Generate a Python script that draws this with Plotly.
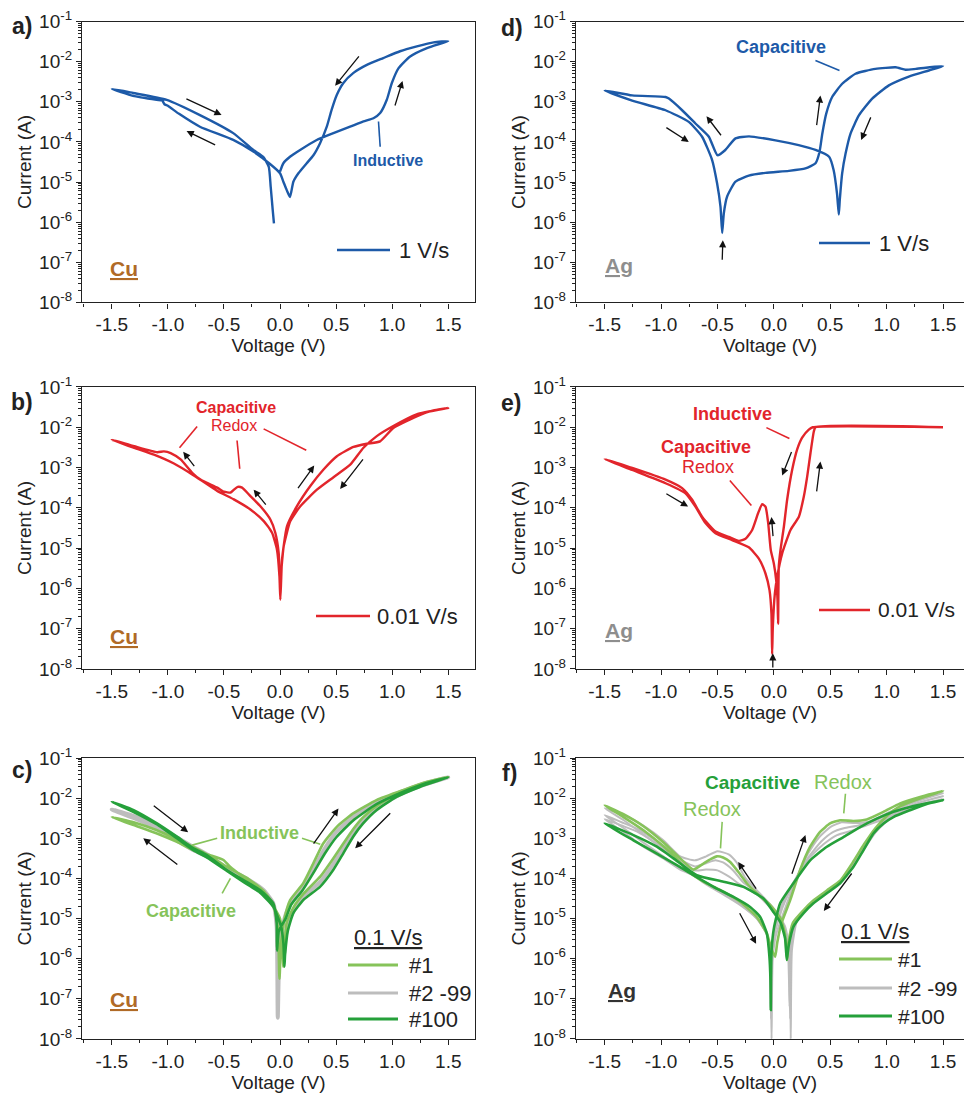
import plotly.graph_objects as go

FONT = "Liberation Sans, Arial, Helvetica, sans-serif"
BLUE = "#1d5aa8"
RED = "#e2252b"
LGREEN = "#86c35a"
DGREEN = "#25a03a"
GRAY = "#bdbdbd"
CU = "#b06a26"
AG = "#8e8e8e"

x_tickvals = [-1.5, -1.0, -0.5, 0.0, 0.5, 1.0, 1.5]
x_ticktext = ["-1.5", "-1.0", "-0.5", "0.0", "0.5", "1.0", "1.5"]
x_minor = [-1.75, -1.25, -0.75, -0.25, 0.25, 0.75, 1.25]
y_exponents = [-8, -7, -6, -5, -4, -3, -2, -1]

# ---- data: (voltage V, log10 current A) ----
a_cycle = [(0.0, -4.74), (0.03, -4.53), (0.089, -4.37), (0.179, -4.2), (0.327, -3.95), (0.476, -3.78),
           (0.625, -3.62), (0.744, -3.49), (0.833, -3.41), (0.893, -3.28), (0.952, -2.95), (0.997, -2.53),
           (1.057, -2.16), (1.16, -1.87), (1.31, -1.66), (1.5, -1.49),
           (1.37, -1.52), (1.22, -1.62), (1.07, -1.74), (0.92, -1.91), (0.774, -2.08), (0.655, -2.28),
           (0.565, -2.53), (0.506, -2.83), (0.46, -3.2), (0.417, -3.62), (0.357, -4.03), (0.298, -4.33),
           (0.238, -4.53), (0.164, -4.78), (0.119, -4.99), (0.089, -5.37), (0.06, -5.2), (0.03, -4.99),
           (0.0, -4.78), (-0.089, -4.55), (-0.238, -4.24), (-0.417, -3.95), (-0.714, -3.62), (-0.9, -3.3),
           (-1.0, -3.1), (-1.03, -3.06), (-1.05, -2.97), (-1.1, -2.95), (-1.31, -2.85), (-1.5, -2.68),
           (-1.31, -2.78), (-1.01, -2.95), (-0.714, -3.33), (-0.417, -3.78), (-0.238, -4.2), (-0.15, -4.37),
           (-0.1, -4.62), (-0.083, -5.12), (-0.065, -5.7), (-0.054, -6.03)]

d_cycle = [(-1.5, -2.72), (-1.256, -2.97), (-0.96, -3.21), (-0.754, -3.5), (-0.636, -3.87), (-0.547, -4.45),
           (-0.503, -5.03), (-0.473, -5.61), (-0.458, -6.27), (-0.443, -5.77), (-0.414, -5.36), (-0.34, -4.99),
           (-0.222, -4.84), (-0.074, -4.77), (0.133, -4.72), (0.28, -4.66), (0.37, -4.53), (0.405, -4.25),
           (0.43, -3.79), (0.464, -3.3), (0.517, -2.88), (0.606, -2.55), (0.724, -2.3), (0.9, -2.18),
           (1.08, -2.14), (1.168, -2.2), (1.26, -2.18), (1.5, -2.11),
           (1.375, -2.22), (1.197, -2.37), (1.02, -2.59), (0.872, -2.92), (0.754, -3.34), (0.68, -3.79),
           (0.636, -4.29), (0.606, -4.78), (0.585, -5.44), (0.576, -5.81), (0.56, -5.28), (0.53, -4.7),
           (0.49, -4.37), (0.37, -4.2), (0.22, -4.08), (0.015, -3.96), (-0.22, -3.86), (-0.34, -3.91),
           (-0.43, -4.2), (-0.5, -4.33), (-0.576, -3.87), (-0.695, -3.54), (-0.813, -3.21), (-0.93, -2.92),
           (-0.96, -2.88), (-1.256, -2.84), (-1.5, -2.72)]

b_cycle = [(0.003, -6.28), (0.01, -5.8), (0.018, -5.28), (0.062, -4.46), (0.151, -3.96), (0.27, -3.46),
           (0.388, -3.05), (0.507, -2.72), (0.655, -2.49), (0.774, -2.41), (0.892, -2.35), (1.01, -2.02),
           (1.218, -1.73), (1.367, -1.58), (1.5, -1.52),
           (1.218, -1.68), (1.01, -1.97), (0.863, -2.22), (0.744, -2.51), (0.626, -2.93), (0.477, -3.24),
           (0.329, -3.55), (0.181, -3.96), (0.092, -4.33), (0.033, -4.95), (0.01, -5.6), (0.0, -5.9),
           (-0.012, -5.12), (-0.042, -4.62), (-0.086, -4.29), (-0.175, -3.96), (-0.264, -3.71), (-0.338, -3.5),
           (-0.377, -3.48), (-0.41, -3.55), (-0.44, -3.62), (-0.5, -3.6), (-0.56, -3.5), (-0.709, -3.3),
           (-0.783, -3.13), (-0.886, -2.8), (-0.975, -2.64), (-1.035, -2.6), (-1.094, -2.62), (-1.3, -2.47),
           (-1.5, -2.31),
           (-1.3, -2.51), (-1.124, -2.68), (-0.946, -2.9), (-0.783, -3.17), (-0.56, -3.58), (-0.412, -3.79),
           (-0.264, -4.04), (-0.145, -4.33), (-0.071, -4.62), (-0.027, -5.04), (-0.005, -5.7), (0.003, -6.28)]

e_cycle = [(-0.015, -7.63), (-0.009, -6.96), (0.009, -6.13), (0.03, -5.71), (0.074, -5.13), (0.148, -4.55),
           (0.222, -4.22), (0.266, -3.72), (0.296, -3.22), (0.325, -2.64), (0.355, -2.1), (0.37, -2.0),
           (1.5, -2.0), (0.345, -2.0), (0.31, -2.06), (0.251, -2.26), (0.207, -2.55), (0.163, -3.05),
           (0.118, -3.8), (0.089, -4.47), (0.059, -5.05), (0.044, -5.46), (0.038, -6.88),
           (0.033, -6.3), (0.021, -5.8), (0.0, -5.38), (-0.027, -5.05), (-0.05, -4.38), (-0.074, -3.97),
           (-0.103, -3.91), (-0.139, -4.13), (-0.192, -4.55), (-0.251, -4.77), (-0.31, -4.82), (-0.4, -4.72),
           (-0.517, -4.59), (-0.636, -4.22), (-0.724, -3.8), (-0.813, -3.51), (-0.96, -3.30), (-1.256, -3.01),
           (-1.5, -2.79),
           (-1.256, -3.06), (-0.96, -3.39), (-0.783, -3.64), (-0.695, -3.97), (-0.606, -4.38), (-0.517, -4.63),
           (-0.37, -4.8), (-0.222, -4.98), (-0.133, -5.26), (-0.074, -5.63), (-0.038, -6.05), (-0.021, -6.63),
           (-0.015, -7.63)]

c_cycle1 = [(-0.005, -6.5), (0.01, -5.6), (0.04, -5.0), (0.09, -4.54), (0.207, -4.12), (0.296, -3.63),
            (0.385, -3.13), (0.504, -2.72), (0.652, -2.38), (0.86, -2.05), (1.097, -1.8), (1.305, -1.6),
            (1.5, -1.47), (1.25, -1.68), (1.04, -1.92), (0.86, -2.2), (0.74, -2.48), (0.65, -2.78),
            (0.56, -3.15), (0.47, -3.52), (0.36, -3.95), (0.21, -4.38), (0.12, -4.72), (0.06, -5.1),
            (0.04, -5.7), (0.03, -6.2), (0.02, -5.5), (0.0, -5.0), (-0.06, -4.7), (-0.148, -4.37),
            (-0.297, -4.04), (-0.445, -3.71), (-0.504, -3.54), (-0.623, -3.42), (-0.771, -3.29),
            (-0.919, -3.09), (-1.097, -2.88), (-1.305, -2.67), (-1.5, -2.47),
            (-1.305, -2.6), (-1.097, -2.8), (-0.919, -3.02), (-0.771, -3.22), (-0.62, -3.45), (-0.47, -3.72),
            (-0.3, -3.98), (-0.15, -4.3), (-0.06, -4.65), (-0.02, -5.2), (-0.005, -6.5)]

c_cycle100 = [(-0.027, -5.8), (-0.01, -5.3), (0.05, -5.0), (0.1, -4.65), (0.2, -4.3), (0.3, -3.85),
              (0.4, -3.38), (0.5, -2.98), (0.65, -2.56), (0.86, -2.15), (1.1, -1.84), (1.3, -1.63),
              (1.5, -1.48), (1.246, -1.72), (1.038, -1.97), (0.86, -2.3), (0.741, -2.63), (0.652, -2.96),
              (0.563, -3.38), (0.474, -3.79), (0.356, -4.21), (0.207, -4.54), (0.118, -4.87), (0.07, -5.3),
              (0.045, -5.9), (0.039, -6.2), (0.03, -5.6), (0.01, -5.2), (-0.06, -4.7), (-0.18, -4.35),
              (-0.33, -4.08), (-0.47, -3.82), (-0.65, -3.48), (-0.77, -3.3), (-0.92, -3.0), (-1.1, -2.65),
              (-1.3, -2.35), (-1.5, -2.09),
              (-1.305, -2.3), (-1.097, -2.63), (-0.919, -2.96), (-0.771, -3.25), (-0.652, -3.42),
              (-0.474, -3.79), (-0.326, -4.04), (-0.178, -4.29), (-0.06, -4.62), (-0.03, -5.1), (-0.027, -5.8)]

c_cycles_2_99 = [(-0.02, -7.47), (0.0, -5.5), (0.05, -4.9), (0.1, -4.6), (0.2, -4.22), (0.3, -3.75),
                 (0.4, -3.25), (0.5, -2.85), (0.65, -2.47), (0.86, -2.1), (1.1, -1.82), (1.3, -1.62),
                 (1.5, -1.48), (1.25, -1.7), (1.04, -1.95), (0.86, -2.25), (0.74, -2.55), (0.65, -2.87),
                 (0.56, -3.27), (0.47, -3.66), (0.36, -4.08), (0.21, -4.46), (0.12, -4.8), (0.06, -5.2),
                 (0.035, -5.9), (0.02, -5.4), (-0.06, -4.68), (-0.15, -4.33), (-0.3, -4.06), (-0.47, -3.77),
                 (-0.65, -3.45), (-0.77, -3.3), (-0.92, -3.05), (-1.1, -2.75), (-1.3, -2.5), (-1.5, -2.28),
                 (-1.3, -2.45), (-1.1, -2.7), (-0.92, -2.98), (-0.77, -3.22), (-0.65, -3.4), (-0.47, -3.74),
                 (-0.3, -4.0), (-0.15, -4.28), (-0.06, -4.62), (-0.03, -5.2), (-0.02, -7.47)]

f_cycle1 = [(0.012, -5.95), (0.03, -5.6), (0.07, -5.1), (0.145, -4.54), (0.233, -3.79), (0.322, -3.21),
            (0.41, -2.84), (0.499, -2.63), (0.588, -2.55), (0.706, -2.57), (0.824, -2.53), (0.972, -2.34),
            (1.12, -2.13), (1.297, -1.97), (1.5, -1.82),
            (1.3, -2.0), (1.12, -2.2), (1.0, -2.45), (0.9, -2.75), (0.8, -3.15), (0.7, -3.6), (0.59, -4.05),
            (0.47, -4.3), (0.35, -4.55), (0.26, -4.8), (0.17, -5.1), (0.13, -5.6), (0.118, -6.03),
            (0.1, -5.4), (0.06, -5.0), (-0.033, -4.66), (-0.151, -4.37), (-0.239, -4.12), (-0.314, -3.84),
            (-0.387, -3.59), (-0.45, -3.48), (-0.505, -3.45), (-0.56, -3.52), (-0.624, -3.63), (-0.713, -3.78),
            (-0.83, -3.5), (-0.98, -3.1), (-1.156, -2.7), (-1.333, -2.4), (-1.5, -2.18),
            (-1.333, -2.47), (-1.156, -2.8), (-0.979, -3.2), (-0.831, -3.6), (-0.742, -3.86), (-0.624, -4.08),
            (-0.447, -4.33), (-0.299, -4.58), (-0.151, -4.96), (-0.062, -5.37), (-0.018, -5.78), (0.012, -5.95)]

f_cycle100 = [(-0.027, -7.28), (-0.025, -6.5), (-0.02, -5.8), (0.0, -5.25), (0.056, -4.62), (0.174, -4.12),
              (0.322, -3.55), (0.47, -3.21), (0.617, -2.97), (0.765, -2.72), (0.913, -2.51), (1.06, -2.34),
              (1.208, -2.22), (1.356, -2.13), (1.5, -2.05),
              (1.35, -2.15), (1.208, -2.3), (1.06, -2.47), (0.972, -2.63), (0.883, -2.88), (0.794, -3.3),
              (0.706, -3.71), (0.588, -4.12), (0.47, -4.37), (0.351, -4.62), (0.262, -4.87), (0.174, -5.2),
              (0.13, -5.7), (0.115, -6.03), (0.1, -5.5), (0.06, -5.1), (0.0, -4.85), (-0.092, -4.5),
              (-0.27, -4.21), (-0.447, -4.08), (-0.683, -3.92), (-0.89, -3.5), (-1.037, -3.21),
              (-1.245, -2.92), (-1.5, -2.63),
              (-1.245, -3.05), (-1.037, -3.38), (-0.86, -3.67), (-0.713, -3.92), (-0.535, -4.21),
              (-0.358, -4.46), (-0.21, -4.71), (-0.121, -4.96), (-0.062, -5.37), (-0.039, -5.95),
              (-0.03, -6.53), (-0.027, -7.28)]

f_cycle_gray_a = [(-0.02, -8.0), (-0.01, -6.0), (0.02, -5.4), (0.1, -4.75), (0.2, -4.0), (0.3, -3.4),
                  (0.4, -2.98), (0.5, -2.72), (0.6, -2.6), (0.72, -2.62), (0.85, -2.58), (1.0, -2.38),
                  (1.15, -2.18), (1.3, -2.02), (1.5, -1.87),
                  (1.3, -2.05), (1.12, -2.25), (1.0, -2.5), (0.9, -2.8), (0.8, -3.2), (0.7, -3.63),
                  (0.59, -4.07), (0.47, -4.32), (0.35, -4.57), (0.26, -4.82), (0.2, -5.1), (0.16, -5.8),
                  (0.15, -8.0), (0.14, -5.8), (0.1, -5.2), (0.0, -4.75), (-0.15, -4.3), (-0.25, -4.0),
                  (-0.33, -3.6), (-0.4, -3.4), (-0.5, -3.32), (-0.6, -3.45), (-0.7, -3.55), (-0.83, -3.45),
                  (-0.98, -3.05), (-1.16, -2.68), (-1.33, -2.42), (-1.5, -2.25),
                  (-1.33, -2.55), (-1.16, -2.9), (-0.98, -3.28), (-0.83, -3.62), (-0.74, -3.86),
                  (-0.62, -4.08), (-0.45, -4.34), (-0.3, -4.6), (-0.15, -4.98), (-0.06, -5.4),
                  (-0.03, -6.0), (-0.02, -8.0)]

f_cycle_gray_b = [(-0.025, -7.5), (-0.015, -6.0), (0.01, -5.35), (0.08, -4.7), (0.18, -4.1), (0.3, -3.5),
                  (0.42, -3.08), (0.52, -2.85), (0.62, -2.75), (0.75, -2.68), (0.9, -2.55), (1.05, -2.38),
                  (1.2, -2.2), (1.35, -2.06), (1.5, -1.95),
                  (1.3, -2.1), (1.12, -2.3), (1.0, -2.55), (0.9, -2.84), (0.8, -3.25), (0.7, -3.66),
                  (0.59, -4.1), (0.47, -4.35), (0.35, -4.6), (0.26, -4.85), (0.18, -5.15), (0.15, -5.9),
                  (0.145, -7.5), (0.13, -5.8), (0.09, -5.2), (0.0, -4.8), (-0.15, -4.35), (-0.27, -4.1),
                  (-0.36, -3.8), (-0.45, -3.6), (-0.52, -3.55), (-0.6, -3.62), (-0.7, -3.7), (-0.85, -3.5),
                  (-1.0, -3.15), (-1.2, -2.78), (-1.35, -2.6), (-1.5, -2.42),
                  (-1.33, -2.75), (-1.16, -3.1), (-0.98, -3.45), (-0.83, -3.75), (-0.72, -3.9),
                  (-0.6, -4.12), (-0.45, -4.38), (-0.3, -4.63), (-0.15, -5.0), (-0.06, -5.4),
                  (-0.035, -6.0), (-0.025, -7.5)]

f_cycle_gray_c = [(-0.025, -7.0), (-0.015, -6.0), (0.005, -5.3), (0.07, -4.68), (0.17, -4.12), (0.3, -3.53),
                  (0.44, -3.15), (0.56, -2.92), (0.68, -2.82), (0.8, -2.7), (0.95, -2.55), (1.1, -2.38),
                  (1.25, -2.22), (1.4, -2.1), (1.5, -2.02),
                  (1.3, -2.15), (1.12, -2.35), (1.0, -2.58), (0.9, -2.86), (0.8, -3.27), (0.7, -3.68),
                  (0.59, -4.1), (0.47, -4.36), (0.35, -4.61), (0.26, -4.86), (0.18, -5.17), (0.145, -5.9),
                  (0.14, -7.2), (0.125, -5.8), (0.08, -5.2), (0.0, -4.82), (-0.15, -4.4), (-0.3, -4.15),
                  (-0.4, -3.95), (-0.5, -3.8), (-0.6, -3.78), (-0.7, -3.8), (-0.85, -3.55), (-1.0, -3.2),
                  (-1.2, -2.85), (-1.35, -2.68), (-1.5, -2.52),
                  (-1.33, -2.85), (-1.16, -3.2), (-0.98, -3.5), (-0.83, -3.78), (-0.72, -3.92),
                  (-0.6, -4.15), (-0.45, -4.4), (-0.3, -4.66), (-0.15, -5.0), (-0.06, -5.4),
                  (-0.035, -6.0), (-0.025, -7.0)]

# ---- layout geometry ----
W, H = 964, 1094
col_dom = {1: [0.0851, 0.4927], 2: [0.5975, 1.0]}
col_rng = {1: [-1.765, 1.738], 2: [-1.754, 1.686]}
row_dom = {1: [0.7235, 0.9803], 2: [0.3885, 0.6463], 3: [0.0503, 0.3071]}

# panel -> (axis index, row, col)
panels = {"a": (1, 1, 1), "d": (2, 1, 2), "b": (3, 2, 1), "e": (4, 2, 2), "c": (5, 3, 1), "f": (6, 3, 2)}

fig = go.Figure()


def ax_names(p):
    i = panels[p][0]
    return ("x" if i == 1 else f"x{i}"), ("y" if i == 1 else f"y{i}")


def add_curve(p, cycle, color, width, name):
    xr, yr = ax_names(p)
    fig.add_trace(go.Scatter(
        x=[v for v, _ in cycle], y=[10 ** l for _, l in cycle],
        mode="lines", line=dict(color=color, width=width, shape="spline", smoothing=0.5),
        name=name, showlegend=False, xaxis=xr, yaxis=yr, hoverinfo="skip"))


add_curve("a", a_cycle, BLUE, 2.4, "1 V/s")
add_curve("d", d_cycle, BLUE, 2.4, "1 V/s")
add_curve("b", b_cycle, RED, 2.4, "0.01 V/s")
add_curve("e", e_cycle, RED, 2.4, "0.01 V/s")
add_curve("c", c_cycles_2_99, GRAY, 4.0, "#2 -99")
add_curve("c", c_cycle1, LGREEN, 2.6, "#1")
add_curve("c", c_cycle100, DGREEN, 2.6, "#100")
add_curve("f", f_cycle_gray_a, GRAY, 2.0, "#2 -99")
add_curve("f", f_cycle_gray_b, GRAY, 2.0, "#2 -99")
add_curve("f", f_cycle_gray_c, GRAY, 2.0, "#2 -99")
add_curve("f", f_cycle1, LGREEN, 2.6, "#1")
add_curve("f", f_cycle100, DGREEN, 2.6, "#100")

tickfont = dict(family=FONT, size=19, color="#222")
titlefont = dict(family=FONT, size=19, color="#222")
y_minor_vals = [k * 10.0 ** e for e in range(-8, -1) for k in range(2, 10)]

layout = dict(width=W, height=H, margin=dict(l=0, r=0, t=0, b=0, autoexpand=False),
              paper_bgcolor="white", plot_bgcolor="white", showlegend=False)

for p, (i, r, c) in panels.items():
    sx = "" if i == 1 else str(i)
    layout["xaxis" + sx] = dict(
        domain=col_dom[c], range=col_rng[c], anchor="y" + sx, automargin=False,
        tickmode="array", tickvals=x_tickvals, ticktext=x_ticktext,
        ticks="outside", ticklen=5, tickwidth=1.3, tickcolor="#222",
        minor=dict(tickmode="array", tickvals=x_minor, ticks="outside", ticklen=3, tickwidth=1.1,
                   tickcolor="#222", showgrid=False),
        showline=True, mirror=True, linecolor="#222", linewidth=1.4,
        showgrid=False, zeroline=False, tickfont=tickfont,
        title=dict(text="Voltage (V)", font=titlefont, standoff=4))
    layout["yaxis" + sx] = dict(
        domain=row_dom[r], type="log", range=[-8, -1], anchor="x" + sx, automargin=False,
        tickmode="array", tickvals=[10.0 ** e for e in y_exponents],
        ticktext=[f"10<sup>{e}</sup>" for e in y_exponents],
        ticks="outside", ticklen=5, tickwidth=1.3, tickcolor="#222",
        minor=dict(tickmode="array", tickvals=y_minor_vals, ticks="outside", ticklen=3, tickwidth=1.0,
                   tickcolor="#222", showgrid=False),
        showline=True, mirror=True, linecolor="#222", linewidth=1.4,
        showgrid=False, zeroline=False, tickfont=tickfont,
        title=dict(text="Current (A)", font=titlefont, standoff=2))

fig.update_layout(**layout)

annotations = []
shapes = []


def label(p, x, l, text, color, size, bold=False):
    xr, yr = ax_names(p)
    t = f"<b>{text}</b>" if bold else text
    annotations.append(dict(x=x, y=l, xref=xr, yref=yr, text=t, showarrow=False,
                            font=dict(family=FONT, size=size, color=color)))


def leader(p, x0, l0, x1, l1, color):
    xr, yr = ax_names(p)
    shapes.append(dict(type="line", xref=xr, yref=yr, x0=x0, y0=10 ** l0, x1=x1, y1=10 ** l1,
                       line=dict(color=color, width=1.6)))


def arrow(p, x0, l0, x1, l1):
    xr, yr = ax_names(p)
    annotations.append(dict(x=x1, y=l1, ax=x0, ay=l0, xref=xr, yref=yr, axref=xr, ayref=yr,
                            text="", showarrow=True, arrowhead=2, arrowsize=1.1, arrowwidth=1.3,
                            arrowcolor="#111"))


def paper_text(px, py, text, size, color, anchor="center"):
    annotations.append(dict(x=px / W, y=1 - py / H, xref="paper", yref="paper", text=text,
                            showarrow=False, xanchor=anchor, yanchor="middle",
                            font=dict(family=FONT, size=size, color=color)))


def legend_line(px0, px1, py, color, width=2.6):
    shapes.append(dict(type="line", xref="paper", yref="paper", x0=px0 / W, x1=px1 / W,
                       y0=1 - py / H, y1=1 - py / H, line=dict(color=color, width=width)))


# panel letters
for t, (px, py) in {"a)": (22, 26), "d)": (512, 28), "b)": (22, 402), "e)": (511, 403),
                    "c)": (22, 770), "f)": (509, 773)}.items():
    paper_text(px, py, f"<b>{t}</b>", 23, "#222")

# electrode labels
paper_text(124, 269, "<b><u>Cu</u></b>", 21, CU)
paper_text(124, 636, "<b><u>Cu</u></b>", 21, CU)
paper_text(124, 999, "<b><u>Cu</u></b>", 21, CU)
paper_text(619, 265, "<b><u>Ag</u></b>", 21, AG)
paper_text(619, 630, "<b><u>Ag</u></b>", 21, AG)
paper_text(622, 990, "<b><u>Ag</u></b>", 21, "#333")

# legends
legend_line(337, 390, 250, BLUE)
paper_text(397, 250, "1 V/s", 22, "#222", "left")
legend_line(819, 870, 243, BLUE)
paper_text(877, 243, "1 V/s", 22, "#222", "left")
legend_line(316, 370, 616, RED)
paper_text(375, 616, "0.01 V/s", 22, "#222", "left")
legend_line(819, 870, 610, RED)
paper_text(876, 610, "0.01 V/s", 21, "#222", "left")

paper_text(388, 937, "<u>0.1 V/s</u>", 22, "#222")
for py, col, txt in [(965, LGREEN, "#1"), (993, GRAY, "#2 -99"), (1019, DGREEN, "#100")]:
    legend_line(348, 398, py, col, 3)
    paper_text(407, py, txt, 22, "#222", "left")
paper_text(875, 931, "<u>0.1 V/s</u>", 22, "#222")
for py, col, txt in [(959, LGREEN, "#1"), (988, GRAY, "#2 -99"), (1016, DGREEN, "#100")]:
    legend_line(839, 892, py, col, 3)
    paper_text(896, py, txt, 21, "#222", "left")

# panel a
label("a", 0.964, -4.45, "Inductive", BLUE, 16, True)
leader("a", 0.878, -3.49, 0.893, -4.12, BLUE)
arrow("a", 0.714, -1.83, 0.491, -2.6)
arrow("a", 1.021, -3.13, 1.092, -2.48)
arrow("a", -0.848, -2.91, -0.521, -3.33)
arrow("a", -0.565, -4.09, -0.833, -3.73)

# panel d
label("d", 0.065, -1.64, "Capacitive", BLUE, 18, True)
leader("d", 0.369, -1.97, 0.582, -2.22, BLUE)
arrow("d", -0.966, -3.62, -0.754, -4.0)
arrow("d", -0.458, -3.87, -0.597, -3.36)
arrow("d", -0.458, -6.97, -0.452, -6.45)
arrow("d", 0.378, -3.62, 0.413, -2.84)
arrow("d", 0.865, -3.35, 0.774, -3.95)

# panel b
label("b", -0.393, -1.52, "Capacitive", RED, 16, True)
label("b", -0.413, -1.96, "Redox", RED, 16)
leader("b", -0.739, -1.98, -0.896, -2.51, RED)
leader("b", -0.383, -2.33, -0.359, -3.03, RED)
leader("b", -0.146, -2.04, 0.234, -2.57, RED)
arrow("b", -0.754, -3.0, -0.863, -2.61)
arrow("b", -0.116, -3.96, -0.235, -3.55)
arrow("b", 0.151, -3.55, 0.305, -2.95)
arrow("b", 0.75, -2.76, 0.536, -3.53)

# panel e
label("e", -0.365, -1.68, "Inductive", RED, 18, True)
label("e", -0.597, -2.49, "Capacitive", RED, 18, True)
label("e", -0.588, -2.99, "Redox", RED, 18)
leader("e", -0.066, -2.01, 0.138, -2.28, RED)
leader("e", -0.39, -3.32, -0.199, -3.94, RED)
arrow("e", -0.966, -3.63, -0.76, -3.97)
arrow("e", -0.006, -4.74, -0.021, -4.23)
arrow("e", 0.162, -2.58, 0.074, -3.2)
arrow("e", 0.378, -3.63, 0.413, -2.85)
arrow("e", -0.009, -8.0, -0.009, -7.61)

# panel c
label("c", -0.183, -2.86, "Inductive", LGREEN, 18, True)
label("c", -0.795, -4.8, "Capacitive", LGREEN, 18, True)
leader("c", -0.783, -3.17, -0.56, -3.0, LGREEN)
leader("c", 0.196, -3.0, 0.359, -3.15, LGREEN)
leader("c", -0.516, -4.37, -0.442, -4.0, LGREEN)
arrow("c", -1.139, -2.16, -0.819, -2.85)
arrow("c", -0.902, -3.68, -1.219, -3.0)
arrow("c", 0.29, -3.17, 0.521, -2.26)
arrow("c", 0.996, -2.34, 0.67, -3.25)

# panel f
label("f", -0.188, -1.6, "Capacitive", DGREEN, 19, True)
label("f", 0.613, -1.6, "Redox", LGREEN, 20)
label("f", -0.55, -2.28, "Redox", LGREEN, 20)
leader("f", 0.635, -1.89, 0.62, -2.38, LGREEN)
leader("f", -0.458, -2.59, -0.473, -3.25, LGREEN)
arrow("f", -0.148, -4.29, -0.316, -3.59)
arrow("f", -0.31, -4.83, -0.157, -5.63)
arrow("f", 0.156, -3.92, 0.28, -2.92)
arrow("f", 0.70, -3.84, 0.443, -4.81)

fig.update_layout(annotations=annotations, shapes=shapes)
fig.write_html("out.html", config={"displayModeBar": False},
               post_script="document.body.style.margin='0';")
